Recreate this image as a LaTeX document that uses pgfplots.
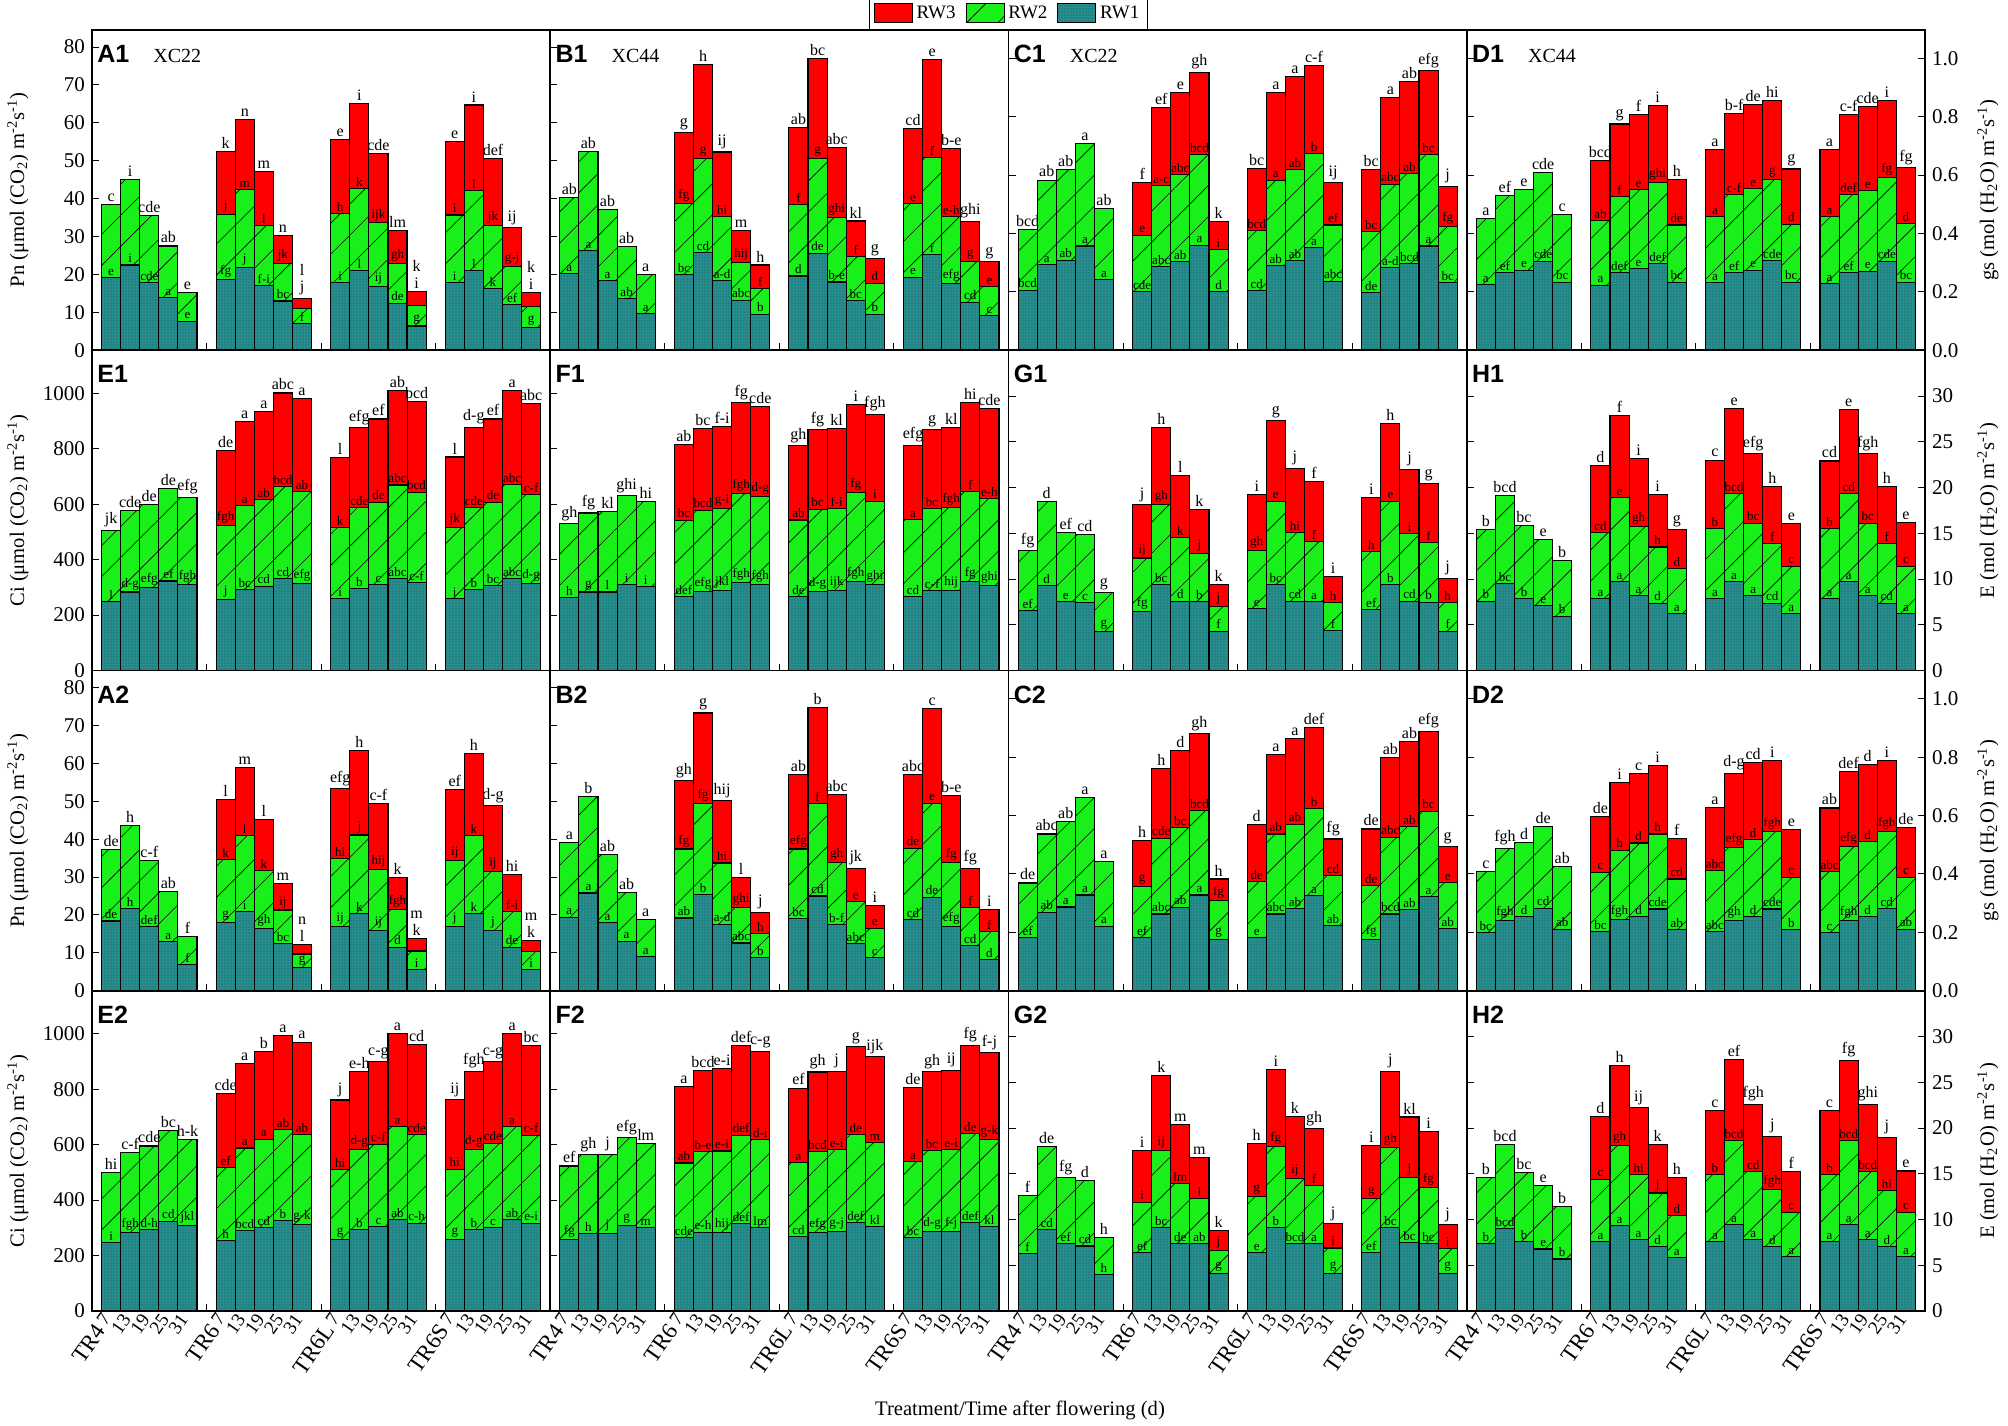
\documentclass[border=0pt]{standalone}
\usepackage{fontspec}
\setmainfont{Liberation Serif}
\newfontfamily\arialf{Liberation Sans}
\usepackage{pgfplots}
\pgfplotsset{compat=1.18}
\usepackage{pgfplotstable}
\usetikzlibrary{patterns.meta}

\definecolor{cRW3}{RGB}{255,0,0}
\definecolor{cRW2}{RGB}{25,240,25}
\definecolor{cRW1}{RGB}{35,145,145}

\newcommand\tickfont{\fontsize{10.5}{11}\selectfont}
\newcommand\toplab{\fontsize{8}{8.5}\selectfont}
\newcommand\inlab{\fontsize{6.5}{7}\selectfont}
\newcommand\numfont{\fontsize{9.5}{10}\selectfont}
\newcommand\labfont{\fontsize{10.3}{11}\selectfont}
\newcommand\two[2]{\shortstack{#1\\#2}}
\newcommand\grp[1]{{\fontsize{11.5}{12}\selectfont #1}\,\raisebox{1.5pt}{7}}

\pgfplotsset{
  /pgf/number format/1000 sep={},
  panel/.style={
    scale only axis, width=229.125pt, height=160.125pt,
    xmin=0, xmax=24, ymin=0, clip=false,
    axis line style={line width=0.8pt},
    tick align=inside, ytick pos=left, xtick pos=bottom,
    major tick length=3.5pt,
    tick style={line width=0.5pt, black},
    xtick={6,12,18}, xticklabels={},
    scaled y ticks=false,
    /pgf/number format/assume math mode=true,
    ticklabel style={font=\tickfont},
  },
  pn/.style={ymax=84.5, ytick={0,10,...,80}},
  gs/.style={ymax=1.097, ytick={0,0.2,0.4,0.6,0.8,1.0},
    yticklabel style={/pgf/number format/fixed, /pgf/number format/fixed zerofill, /pgf/number format/precision=1}},
  ci/.style={ymax=1155, ytick={0,200,...,1000}},
  ee/.style={ymax=35, ytick={0,5,...,30}},
  colA/.style={},
  colB/.style={yticklabels={}},
  colD/.style={ytick pos=both, yticklabel pos=right},
  rowfour/.style={
    extra x ticks={1,2,3,4,5,7,8,9,10,11,13,14,15,16,17,19,20,21,22,23},
    extra x tick labels={\grp{TR4},13,19,25,31,\grp{TR6},13,19,25,31,\grp{TR6L},13,19,25,31,\grp{TR6S},13,19,25,31},
    extra x tick style={tick style={draw=none}, xticklabel style={rotate=55, anchor=east, font=\numfont, inner sep=3pt}},
  },
  bars/.style={ybar, bar width=1, bar shift=0pt, draw=black, line width=0.55pt, forget plot,
    nodes near coords, point meta=explicit symbolic},
  rw3/.style={bars, fill=cRW3,
    every node near coord/.append style={font=\toplab, anchor=south, inner sep=1.2pt, text=black}},
  rw2/.style={bars, fill=cRW2,
    postaction={pattern={Lines[angle=45,distance=11pt,line width=0.3pt]}, pattern color=black},
    every node near coord/.append style={font=\inlab, anchor=south, inner sep=0.8pt, text=black}},
  rw1/.style={bars, fill=cRW1,
    postaction={pattern={Dots[distance=1.5pt,radius=0.35pt]}, pattern color=black!75},
    every node near coord/.append style={font=\inlab, anchor=south, inner sep=0.8pt, text=black}},
}

\newcommand\bars[1]{%
  \addplot[rw3] table[x=x,y=y3,meta=l3]{#1};
  \addplot[rw2] table[x=x,y=y2,meta=l2]{#1};
  \addplot[rw1] table[x=x,y=y1,meta=l1]{#1};
}
\newcommand\plab[2]{%
  \node[anchor=base west, inner sep=0pt, font={\arialf\bfseries\fontsize{12.5}{12.5}\selectfont}, xshift=2.5pt, yshift=-16.3pt] at (rel axis cs:0,1) {#1};
  \node[anchor=base west, inner sep=0pt, font={\fontsize{10}{10}\selectfont}, xshift=30.5pt, yshift=-16.3pt] at (rel axis cs:0,1) {#2};
}

% ---------------- data: x, top of RW1, top of RW2, top of RW3, letters ----------------
\pgfplotstableread{
x y1 y2 y3 l1 l2 l3
1 19.2 38.5 38.5 e {} c
2 22.5 45.0 45.0 i {} i
3 17.8 35.6 35.6 cde {} cde
4 13.9 27.5 27.5 a {} ab
5 7.7 15.3 15.3 e {} e
7 18.7 35.9 52.4 fg j k
8 21.8 42.3 60.9 j m n
9 17.1 33.0 47.2 f-i l m
10 13.0 22.8 30.2 bc jk n
11 7.1 11.0 13.7 f {} \two{l}{j}
13 17.8 36.1 55.6 i h e
14 21.1 42.6 65.2 l k i
15 16.8 33.6 51.8 ij ijk cde
16 12.4 22.8 31.7 de gh lm
17 6.4 11.7 15.5 g {} \two{k}{i}
19 17.8 35.7 55.1 i i e
20 21.0 42.2 64.7 l l i
21 16.3 32.9 50.6 k jk def
22 12.1 22.2 32.3 ef g-j ij
23 6.0 11.5 15.3 g {} \two{k}{i}
}\tAa
\pgfplotstableread{
x y1 y2 y3 l1 l2 l3
1 20.2 40.4 40.4 a {} ab
2 26.3 52.5 52.5 a {} ab
3 18.4 37.2 37.2 a {} ab
4 13.7 27.3 27.3 ab {} ab
5 9.7 19.9 19.9 a {} a
7 19.9 38.7 57.4 bc fg g
8 25.8 50.6 75.4 cd g h
9 18.3 35.2 52.3 a-d hi ij
10 13.2 23.1 31.7 abc hij m
11 9.5 16.2 22.5 b f h
13 19.6 38.5 58.7 d f ab
14 25.6 50.6 76.9 de g bc
15 18.0 35.0 53.6 b-e ghi abc
16 13.1 24.8 34.1 bc f kl
17 9.5 17.7 24.2 b d g
19 19.3 38.7 58.6 e e cd
20 25.3 50.8 76.7 f f e
21 17.7 35.2 53.3 efg e-h b-e
22 12.7 23.4 34.0 cd g ghi
23 9.1 16.8 23.4 c e g
}\tBa
\pgfplotstableread{
x y1 y2 y3 l1 l2 l3
1 0.206 0.415 0.415 bcd {} bcd
2 0.294 0.583 0.583 a {} ab
3 0.309 0.619 0.619 ab {} ab
4 0.357 0.709 0.709 a {} a
5 0.242 0.485 0.485 a {} ab
7 0.200 0.394 0.574 cde e f
8 0.286 0.565 0.831 abc a-c ef
9 0.303 0.602 0.882 ab abc e
10 0.360 0.671 0.952 a bcd gh
11 0.200 0.345 0.440 d i k
13 0.205 0.410 0.623 cd bcd bc
14 0.291 0.583 0.882 ab a a
15 0.306 0.619 0.939 ab ab a
16 0.351 0.674 0.975 a b c-f
17 0.237 0.429 0.575 abc ef ij
19 0.197 0.406 0.619 de bc bc
20 0.282 0.569 0.866 a-d abc a
21 0.297 0.606 0.920 bcd ab ab
22 0.357 0.671 0.958 a bc efg
23 0.232 0.423 0.562 bc fg j
}\tCa
\pgfplotstableread{
x y1 y2 y3 l1 l2 l3
1 0.225 0.451 0.451 a {} a
2 0.265 0.529 0.529 ef {} ef
3 0.274 0.551 0.551 e {} e
4 0.305 0.610 0.610 cde {} cde
5 0.233 0.465 0.465 bc {} c
7 0.223 0.443 0.649 a ab bcd
8 0.265 0.526 0.775 def f g
9 0.280 0.551 0.808 e e f
10 0.297 0.574 0.838 def ghi i
11 0.233 0.429 0.586 bc de h
13 0.231 0.457 0.688 a a a
14 0.265 0.534 0.811 ef c-f b-f
15 0.274 0.554 0.842 e e de
16 0.306 0.586 0.854 cde g hi
17 0.233 0.432 0.621 bc d g
19 0.229 0.457 0.688 a a a
20 0.265 0.534 0.808 ef def c-f
21 0.271 0.546 0.834 e e cde
22 0.305 0.592 0.856 cde fg i
23 0.233 0.434 0.626 bc d fg
}\tDa
\pgfplotstableread{
x y1 y2 y3 l1 l2 l3
1 249 506 506 l {} jk
2 283 578 578 d-g {} cde
3 298 600 600 efg {} de
4 323 657 657 ef {} de
5 311 625 625 fgh {} efg
7 257 522 792 j fgh de
8 292 595 899 bc a a
9 304 617 933 cd ab a
10 331 664 1001 cd bcd abc
11 315 645 980 efg ab a
13 259 516 768 i k l
14 295 587 876 b cde efg
15 310 607 907 c de ef
16 331 669 1009 abc abc ab
17 317 643 969 c-f bcd bcd
19 259 516 770 i jk l
20 292 587 878 b cde d-g
21 305 607 907 bc de ef
22 331 671 1011 abc abc a
23 315 635 964 d-g c-f abc
}\tEa
\pgfplotstableread{
x y1 y2 y3 l1 l2 l3
1 263 530 530 h {} gh
2 283 568 568 g {} fg
3 283 572 572 l {} kl
4 311 630 630 i {} ghi
5 304 609 609 i {} hi
7 266 542 816 def bc ab
8 286 578 874 efg bcd bc
9 288 583 881 jkl g-i f-i
10 319 640 966 fgh fgh fg
11 311 627 951 fgh d-g cde
13 266 543 811 de ab gh
14 286 582 868 d-g bc fg
15 288 584 874 ijk f-i kl
16 321 641 960 fgh fg i
17 311 611 924 ghi i fgh
19 266 545 813 cd a efg
20 288 583 869 c-f bc g
21 289 587 877 hij fgh kl
22 321 646 966 fg f hi
23 307 621 944 ghi e-h cde
}\tFa
\pgfplotstableread{
x y1 y2 y3 l1 l2 l3
1 6.53 13.1 13.1 ef {} fg
2 9.31 18.5 18.5 d {} d
3 7.55 15.1 15.1 e {} ef
4 7.41 14.9 14.9 c {} cd
5 4.27 8.5 8.5 g {} g
7 6.46 12.3 18.1 fg ij j
8 9.38 18.1 26.6 bc gh h
9 7.59 14.5 21.3 d k l
10 7.52 12.8 17.6 b j k
11 4.31 7.0 9.4 f j k
13 6.75 13.1 19.2 e gh i
14 9.38 18.5 27.3 bc e g
15 7.59 15.1 22.1 cd hi j
16 7.55 14.1 20.7 a f f
17 4.34 7.4 10.3 f h i
19 6.64 13.0 18.9 ef h i
20 9.38 18.5 27.0 b e h
21 7.59 15.0 22.0 cd i j
22 7.48 14.0 20.4 b f g
23 4.31 7.4 10.1 f h j
}\tGa
\pgfplotstableread{
x y1 y2 y3 l1 l2 l3
1 7.59 15.4 15.4 b {} b
2 9.53 19.1 19.1 bc {} bcd
3 7.85 15.8 15.8 b {} bc
4 7.08 14.3 14.3 e {} e
5 5.95 12.0 12.0 b {} b
7 7.85 15.1 22.4 a cd d
8 9.74 18.9 27.9 a e f
9 8.21 15.7 23.2 a gh i
10 7.37 13.5 19.2 d h i
11 6.20 11.1 15.4 a d g
13 7.85 15.5 23.0 a b c
14 9.74 19.3 28.6 a bcd e
15 8.21 16.1 23.7 a bc efg
16 7.37 13.9 20.1 cd f h
17 6.20 11.4 16.1 a c e
19 7.85 15.5 22.9 a b cd
20 9.74 19.3 28.5 a cd e
21 8.21 16.1 23.7 a bc fgh
22 7.37 13.9 20.1 cd f h
23 6.20 11.4 16.2 a c e
}\tHa
\pgfplotstableread{
x y1 y2 y3 l1 l2 l3
1 18.4 37.3 37.3 de {} de
2 21.6 43.7 43.7 h {} h
3 16.9 34.4 34.4 def {} c-f
4 13.0 26.2 26.2 a {} ab
5 7.0 14.3 14.3 f {} f
7 17.9 34.6 50.4 g k l
8 20.9 40.9 58.9 i l m
9 16.5 31.7 45.1 gh k l
10 12.4 21.3 28.4 bc ij m
11 6.2 9.7 12.1 g {} \two{n}{l}
13 17.0 34.8 53.3 ij hi efg
14 20.3 41.1 63.3 k j h
15 15.8 32.0 49.5 ij hij c-f
16 11.5 21.4 30.0 d fgh k
17 5.6 10.5 13.7 i {} \two{m}{k}
19 17.0 34.3 53.0 j ij ef
20 20.4 40.9 62.7 k k h
21 15.8 31.5 48.9 j ij d-g
22 11.5 21.0 30.6 de f-i hi
23 5.6 10.3 13.3 i {} \two{m}{k}
}\tAb
\pgfplotstableread{
x y1 y2 y3 l1 l2 l3
1 19.4 39.2 39.2 a {} a
2 25.8 51.2 51.2 a {} b
3 17.9 35.9 35.9 a {} ab
4 13.1 26.0 26.0 a {} ab
5 9.1 18.7 18.7 a {} a
7 19.2 37.4 55.5 ab fg gh
8 25.3 49.5 73.3 b fg g
9 17.6 33.7 50.2 a-d hi hij
10 12.6 22.0 29.9 abc ghi l
11 8.8 15.2 20.7 b h j
13 19.0 37.4 57.0 bc efg ab
14 25.0 49.3 74.8 cd f b
15 17.4 33.8 51.8 b-f gh abc
16 12.4 23.5 32.3 abc e jk
17 8.7 16.5 22.6 c e i
19 18.8 37.6 57.0 cd de abc
20 24.7 49.5 74.5 de e c
21 16.9 33.9 51.5 efg fg b-e
22 11.9 22.0 32.3 cd f fg
23 8.3 15.6 21.4 d f i
}\tBb
\pgfplotstableread{
x y1 y2 y3 l1 l2 l3
1 0.183 0.369 0.369 ef {} de
2 0.269 0.537 0.537 ab {} abc
3 0.287 0.581 0.581 a {} ab
4 0.328 0.662 0.662 a {} a
5 0.221 0.443 0.443 a {} a
7 0.183 0.358 0.514 ef g h
8 0.263 0.523 0.762 abc cde h
9 0.286 0.560 0.823 ab bc d
10 0.328 0.617 0.880 a bcd gh
11 0.177 0.309 0.383 g fg h
13 0.183 0.374 0.570 e de d
14 0.263 0.537 0.808 abc ab a
15 0.282 0.571 0.865 ab ab a
16 0.326 0.625 0.903 a b def
17 0.223 0.394 0.520 ab cd fg
19 0.175 0.360 0.554 fg de de
20 0.263 0.526 0.798 bcd abc ab
21 0.277 0.562 0.854 ab ab ab
22 0.322 0.615 0.889 a bc efg
23 0.214 0.371 0.494 ab e g
}\tCb
\pgfplotstableread{
x y1 y2 y3 l1 l2 l3
1 0.200 0.408 0.408 bc {} c
2 0.242 0.488 0.488 fgh {} fgh
3 0.255 0.509 0.509 d {} d
4 0.283 0.563 0.563 cd {} de
5 0.211 0.425 0.425 ab {} ab
7 0.203 0.406 0.598 bc c de
8 0.243 0.482 0.712 fgh h i
9 0.255 0.506 0.745 d d c
10 0.280 0.537 0.771 cde h i
11 0.209 0.383 0.522 ab cd f
13 0.203 0.411 0.629 abc abc a
14 0.240 0.491 0.745 gh efg d-g
15 0.254 0.518 0.783 d d cd
16 0.280 0.546 0.790 cde fgh i
17 0.209 0.389 0.552 b c e
19 0.200 0.409 0.626 c abc ab
20 0.240 0.495 0.751 fgh efg def
21 0.255 0.511 0.774 d d d
22 0.282 0.546 0.790 cd fgh i
23 0.211 0.389 0.559 ab c de
}\tDb
\pgfplotstableread{
x y1 y2 y3 l1 l2 l3
1 247 499 499 i {} hi
2 283 571 571 fgh {} c-f
3 294 595 595 d-h {} cde
4 324 650 650 cd {} bc
5 308 619 619 jkl {} h-k
7 253 517 785 h ef cde
8 289 588 894 bcd a a
9 301 620 937 cd a b
10 326 655 994 b ab a
11 312 637 970 g-k ab a
13 258 510 761 g hi j
14 293 582 865 b d-g e-h
15 304 602 899 c c-f c-g
16 330 664 1002 ab a a
17 317 636 961 c-h cde cd
19 258 512 763 g hi ij
20 293 583 865 b d-g fgh
21 301 605 900 c cde c-g
22 330 664 1002 ab a a
23 317 634 958 e-i c-f bc
}\tEb
\pgfplotstableread{
x y1 y2 y3 l1 l2 l3
1 259 523 523 fg {} ef
2 280 564 564 h {} gh
3 280 566 566 j {} j
4 310 626 626 g {} efg
5 300 605 605 m {} lm
7 265 534 810 cde ab a
8 284 574 868 e-h b-e bcd
9 284 577 874 hij e-i e-i
10 316 634 958 def def def
11 301 619 937 lm d-i c-g
13 268 536 804 cd a ef
14 284 576 862 efg bcd gh
15 287 582 865 g-j e-i j
16 318 637 954 def de g
17 305 607 918 kl m ijk
19 265 540 805 bc a de
20 286 578 864 d-g bc gh
21 287 582 868 f-j e-i ij
22 318 640 958 def de fg
23 305 618 931 kl g-k f-j
}\tFb
\pgfplotstableread{
x y1 y2 y3 l1 l2 l3
1 6.31 12.6 12.6 f {} f
2 8.93 18.0 18.0 cd {} de
3 7.33 14.6 14.6 ef {} fg
4 7.11 14.3 14.3 cd {} d
5 4.01 8.06 8.06 h {} h
7 6.38 11.9 17.5 ef i i
8 9.08 17.5 25.7 bc ij k
9 7.40 13.9 20.4 de lm m
10 7.33 12.3 16.8 ab l m
11 4.12 6.60 8.79 g j k
13 6.38 12.5 18.3 e g h
14 9.15 18.0 26.4 b fg i
15 7.40 14.5 21.3 bcd ij k
16 7.36 13.7 19.9 a f gh
17 4.12 6.89 9.52 g i j
19 6.38 12.3 18.1 ef g i
20 9.08 17.9 26.2 bc gh j
21 7.47 14.6 21.2 bc j kl
22 7.33 13.5 19.6 bc fg i
23 4.12 6.85 9.44 g i j
}\tGb
\pgfplotstableread{
x y1 y2 y3 l1 l2 l3
1 7.33 14.6 14.6 b {} b
2 9.04 18.2 18.2 bcd {} bcd
3 7.55 15.1 15.1 b {} bc
4 6.78 13.7 13.7 e {} e
5 5.69 11.4 11.4 b {} b
7 7.55 14.4 21.3 a c d
8 9.33 18.1 26.8 a gh h
9 7.77 14.9 22.2 a hi ij
10 7.04 12.9 18.2 d j k
11 5.83 10.4 14.6 a d h
13 7.58 14.9 21.9 a b c
14 9.41 18.6 27.5 a bcd ef
15 7.77 15.2 22.6 a cd fgh
16 7.04 13.3 19.1 d fgh j
17 5.94 10.8 15.2 a c f
19 7.58 14.9 21.9 a b c
20 9.41 18.6 27.4 a bcd fg
21 7.77 15.2 22.6 a bcd ghi
22 7.04 13.2 19.0 d hi j
23 5.94 10.8 15.3 a c e
}\tHb

\begin{document}
\begin{tikzpicture}
\useasboundingbox (0pt,0pt) rectangle (1004pt,-712.5pt);
% ---------- row 1 ----------
\begin{axis}[panel, pn, colA, at={(46pt,-15pt)}, anchor=north west]
\bars{\tAa}\plab{A1}{XC22}
\end{axis}
\begin{axis}[panel, pn, colB, at={(275.125pt,-15pt)}, anchor=north west,
  legend style={at={(1,1)}, anchor=south, legend columns=3, draw=black, line width=0.5pt,
    font=\fontsize{9.5}{10}\selectfont, inner sep=2pt,
    /tikz/every even column/.append style={column sep=3pt}},
  legend image code/.code={\draw[#1, line width=0.4pt] (0pt,-4.5pt) rectangle (19pt,5pt);}]
\bars{\tBa}\plab{B1}{XC44}
\addlegendimage{fill=cRW3, draw=black}\addlegendentry{RW3}
\addlegendimage{fill=cRW2, draw=black, postaction={pattern={Lines[angle=45,distance=11pt,line width=0.3pt]}, pattern color=black}}\addlegendentry{RW2}
\addlegendimage{fill=cRW1, draw=black, postaction={pattern={Dots[distance=1.5pt,radius=0.35pt]}, pattern color=black!75}}\addlegendentry{RW1}
\end{axis}
\begin{axis}[panel, gs, colB, at={(504.25pt,-15pt)}, anchor=north west]
\bars{\tCa}\plab{C1}{XC22}
\end{axis}
\begin{axis}[panel, gs, colD, at={(733.375pt,-15pt)}, anchor=north west]
\bars{\tDa}\plab{D1}{XC44}
\end{axis}
% ---------- row 2 ----------
\begin{axis}[panel, ci, colA, at={(46pt,-175.125pt)}, anchor=north west]
\bars{\tEa}\plab{E1}{}
\end{axis}
\begin{axis}[panel, ci, colB, at={(275.125pt,-175.125pt)}, anchor=north west]
\bars{\tFa}\plab{F1}{}
\end{axis}
\begin{axis}[panel, ee, colB, at={(504.25pt,-175.125pt)}, anchor=north west]
\bars{\tGa}\plab{G1}{}
\end{axis}
\begin{axis}[panel, ee, colD, at={(733.375pt,-175.125pt)}, anchor=north west]
\bars{\tHa}\plab{H1}{}
\end{axis}
% ---------- row 3 ----------
\begin{axis}[panel, pn, colA, at={(46pt,-335.25pt)}, anchor=north west]
\bars{\tAb}\plab{A2}{}
\end{axis}
\begin{axis}[panel, pn, colB, at={(275.125pt,-335.25pt)}, anchor=north west]
\bars{\tBb}\plab{B2}{}
\end{axis}
\begin{axis}[panel, gs, colB, at={(504.25pt,-335.25pt)}, anchor=north west]
\bars{\tCb}\plab{C2}{}
\end{axis}
\begin{axis}[panel, gs, colD, at={(733.375pt,-335.25pt)}, anchor=north west]
\bars{\tDb}\plab{D2}{}
\end{axis}
% ---------- row 4 ----------
\begin{axis}[panel, ci, colA, rowfour, at={(46pt,-495.375pt)}, anchor=north west]
\bars{\tEb}\plab{E2}{}
\end{axis}
\begin{axis}[panel, ci, colB, rowfour, at={(275.125pt,-495.375pt)}, anchor=north west]
\bars{\tFb}\plab{F2}{}
\end{axis}
\begin{axis}[panel, ee, colB, rowfour, at={(504.25pt,-495.375pt)}, anchor=north west]
\bars{\tGb}\plab{G2}{}
\end{axis}
\begin{axis}[panel, ee, colD, rowfour, at={(733.375pt,-495.375pt)}, anchor=north west]
\bars{\tHb}\plab{H2}{}
\end{axis}
% ---------- axis titles ----------
\node[rotate=90, font=\labfont] at (9pt,-95.06pt) {Pn (μmol (CO\textsubscript{2}) m\textsuperscript{-2}s\textsuperscript{-1})};
\node[rotate=90, font=\labfont] at (9pt,-255.19pt) {Ci (μmol (CO\textsubscript{2}) m\textsuperscript{-2}s\textsuperscript{-1})};
\node[rotate=90, font=\labfont] at (9pt,-415.31pt) {Pn (μmol (CO\textsubscript{2}) m\textsuperscript{-2}s\textsuperscript{-1})};
\node[rotate=90, font=\labfont] at (9pt,-575.44pt) {Ci (μmol (CO\textsubscript{2}) m\textsuperscript{-2}s\textsuperscript{-1})};
\node[rotate=90, font=\labfont] at (994pt,-95.06pt) {gs (mol (H\textsubscript{2}O) m\textsuperscript{-2}s\textsuperscript{-1})};
\node[rotate=90, font=\labfont] at (994pt,-255.19pt) {E (mol (H\textsubscript{2}O) m\textsuperscript{-2}s\textsuperscript{-1})};
\node[rotate=90, font=\labfont] at (994pt,-415.31pt) {gs (mol (H\textsubscript{2}O) m\textsuperscript{-2}s\textsuperscript{-1})};
\node[rotate=90, font=\labfont] at (994pt,-575.44pt) {E (mol (H\textsubscript{2}O) m\textsuperscript{-2}s\textsuperscript{-1})};
\node[font=\labfont] at (510pt,-705pt) {Treatment/Time after flowering (d)};
\end{tikzpicture}
\end{document}
